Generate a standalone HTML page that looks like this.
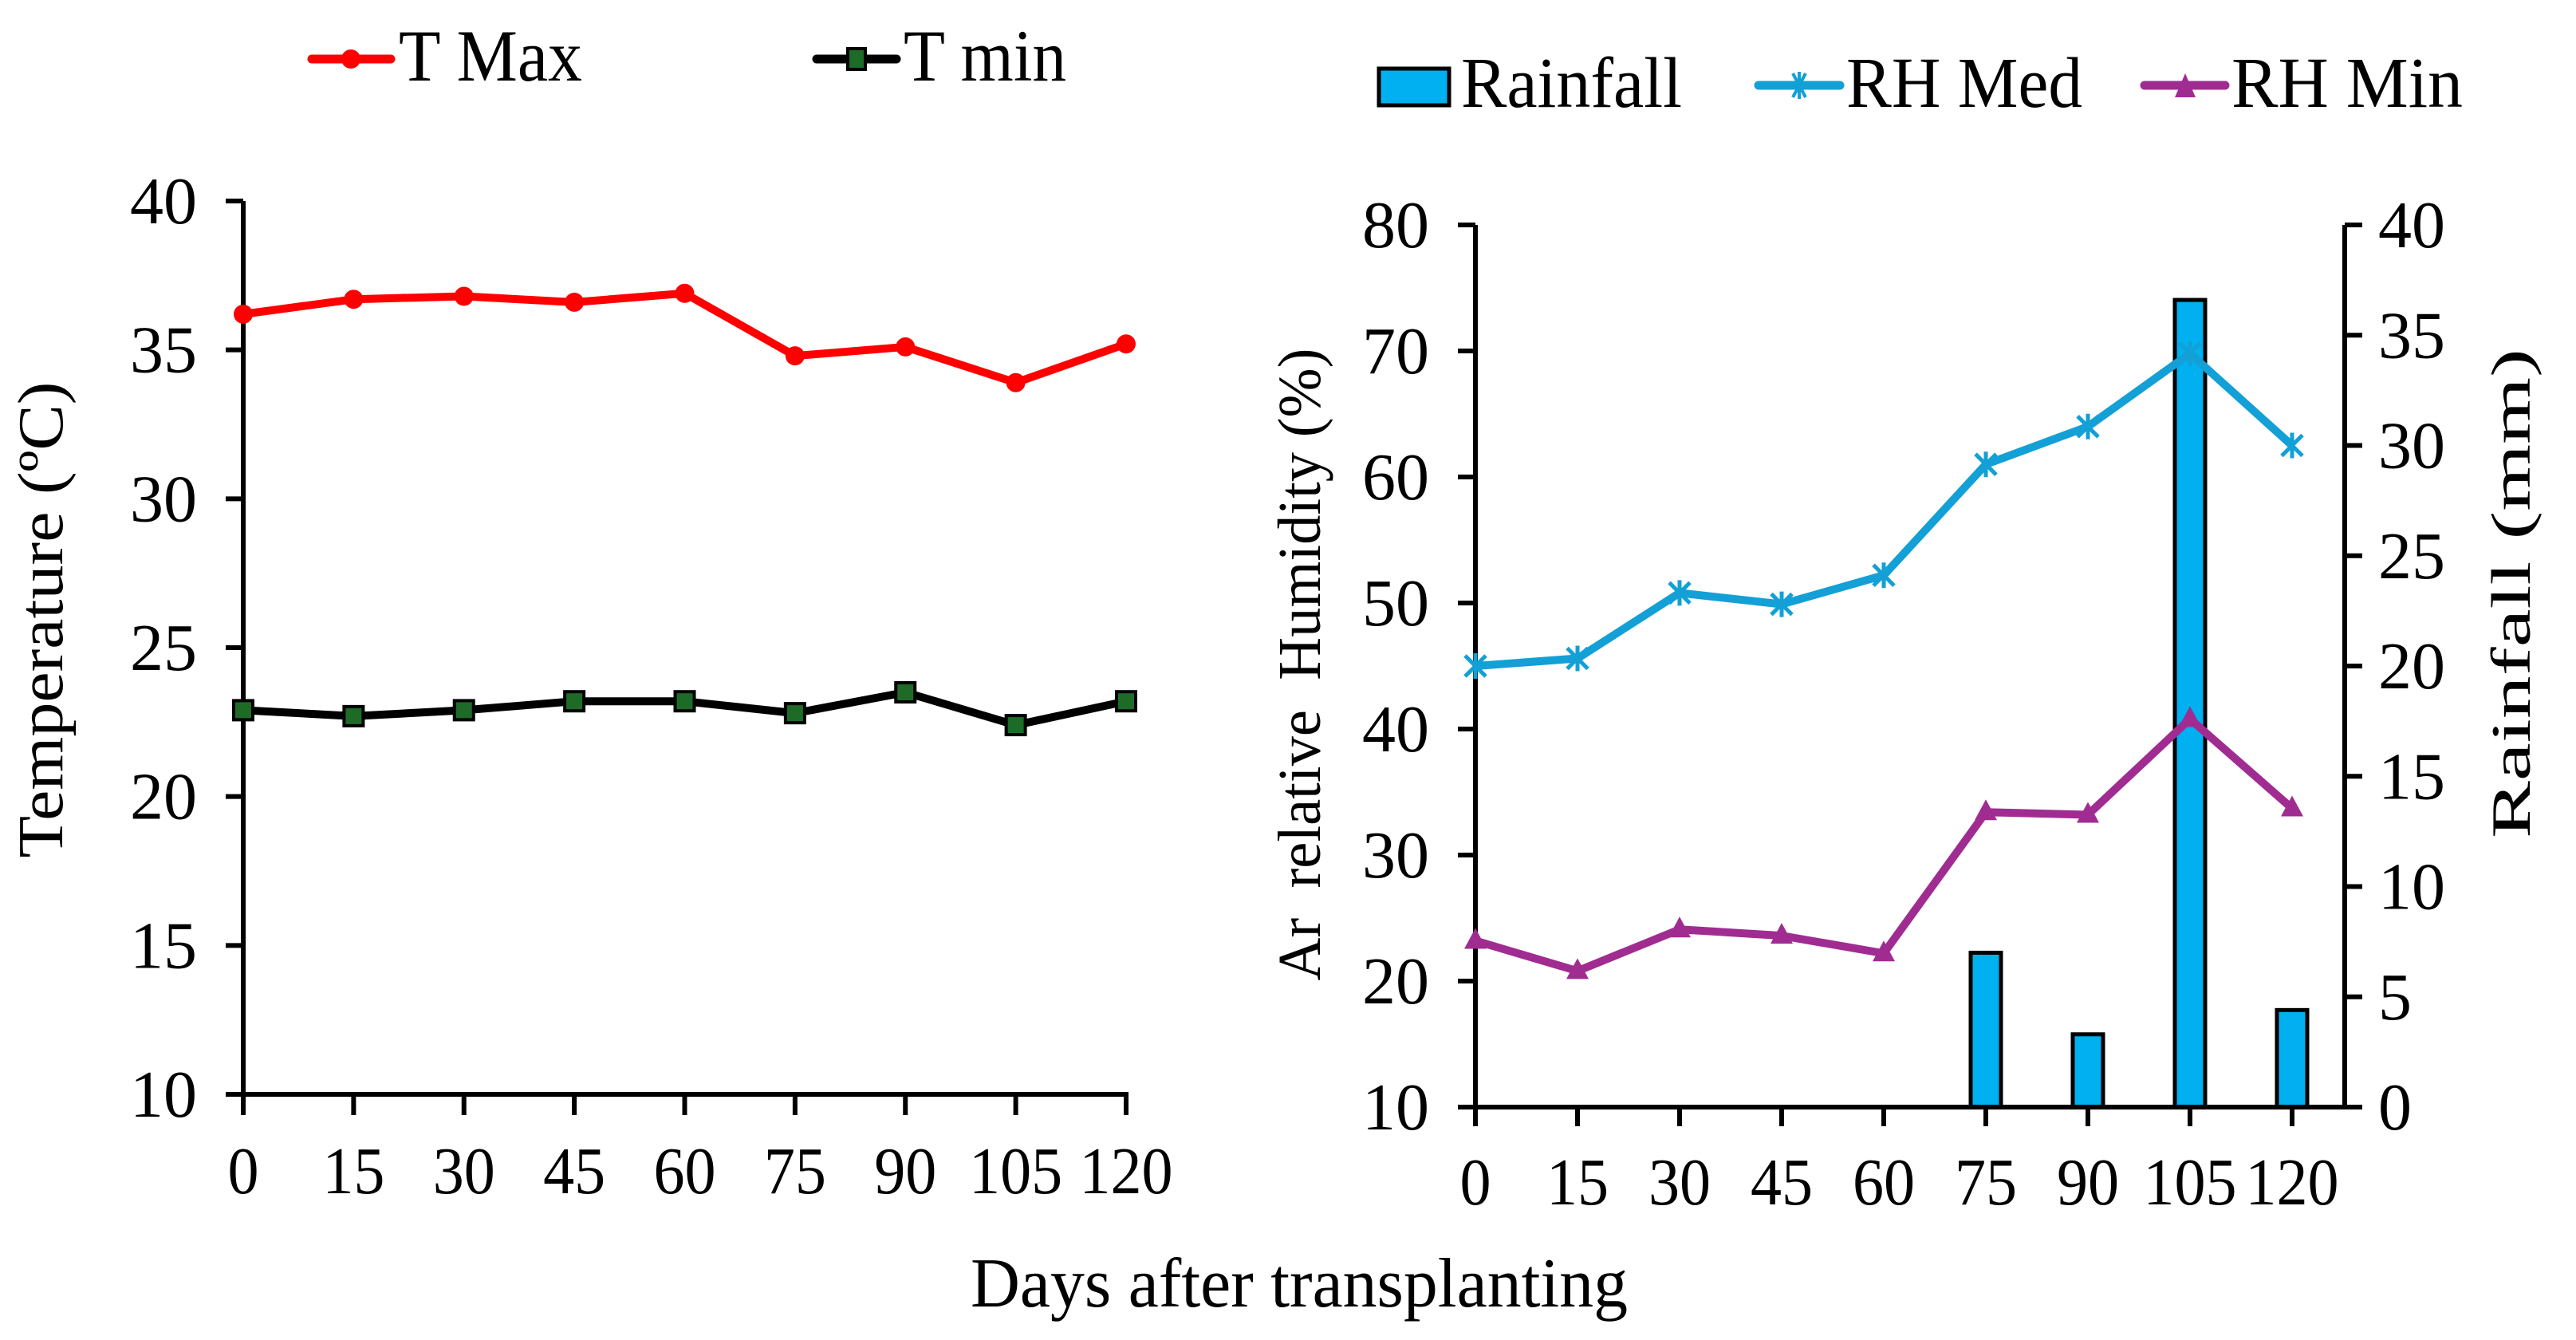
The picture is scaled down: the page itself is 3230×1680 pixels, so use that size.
<!DOCTYPE html>
<html><head><meta charset="utf-8"><style>html,body{margin:0;padding:0;background:#fff}svg{display:block}text{font-family:"Liberation Serif","Times New Roman",serif;fill:#000}</style></head>
<body>
<svg id="chart" width="3230" height="1680" xmlns="http://www.w3.org/2000/svg">
<g id="left"></g>
<g id="right"></g>
<g>
  <g>
    <line x1="391" y1="74" x2="490" y2="74" stroke="#ff0000" stroke-width="11" stroke-linecap="round"/>
    <circle cx="440" cy="74" r="12" fill="#ff0000"/>
    <text x="500" y="101" font-size="92" textLength="230" lengthAdjust="spacingAndGlyphs">T Max</text>
  </g>
  <g>
    <line x1="1024" y1="74" x2="1124" y2="74" stroke="#000" stroke-width="11" stroke-linecap="round"/>
    <rect x="1063" y="61" width="22" height="26" fill="#1e6b28" stroke="#000" stroke-width="4"/>
    <text x="1133" y="101" font-size="92" textLength="204" lengthAdjust="spacingAndGlyphs">T min</text>
  </g>
</g>
<g>
  <g>
    <rect x="1729" y="86" width="88" height="46" fill="#00b0f0" stroke="#000" stroke-width="5"/>
    <text x="1832" y="134" font-size="90" textLength="277" lengthAdjust="spacingAndGlyphs">Rainfall</text>
  </g>
  <g>
    <line x1="2205" y1="107" x2="2307" y2="107" stroke="#12a0d6" stroke-width="11" stroke-linecap="round"/>
    <path d="M2248,92 L2264,122 M2264,92 L2248,122 M2256,90 L2256,124" stroke="#12a0d6" stroke-width="4"/>
    <text x="2315" y="134" font-size="90" textLength="296" lengthAdjust="spacingAndGlyphs">RH Med</text>
  </g>
  <g>
    <line x1="2689" y1="107" x2="2790" y2="107" stroke="#a02c92" stroke-width="11" stroke-linecap="round"/>
    <path d="M2740,92 L2753,122 L2727,122 Z" fill="#a02c92"/>
    <text x="2798" y="134" font-size="90" textLength="290" lengthAdjust="spacingAndGlyphs">RH Min</text>
  </g>
</g>
<text x="1629" y="1638" font-size="88" text-anchor="middle" textLength="824" lengthAdjust="spacingAndGlyphs">Days after transplanting</text>
<text transform="translate(78,777) rotate(-90)" font-size="80" text-anchor="middle" textLength="597" lengthAdjust="spacingAndGlyphs">Temperature (ºC)</text>
<text transform="translate(1655,833) rotate(-90)" font-size="76" text-anchor="middle" textLength="793" lengthAdjust="spacingAndGlyphs" xml:space="preserve">Ar  relative  Humidity (%)</text>
<text transform="translate(3172,744) rotate(-90)" font-size="70" text-anchor="middle" textLength="614" lengthAdjust="spacingAndGlyphs">Rainfall (mm)</text>
</svg>
<script>
const days = [0,15,30,45,60,75,90,105,120];
const tMax = [36.2,36.7,36.8,36.6,36.9,34.8,35.1,33.9,35.2];
const tMin = [22.9,22.7,22.9,23.2,23.2,22.8,23.5,22.4,23.2];
const rhMed = [45.0,45.6,50.8,49.9,52.2,61.0,64.0,69.8,62.5];
const rhMin = [23.2,20.8,24.1,23.6,22.2,33.4,33.2,40.8,33.7];
const rainfall = [0,0,0,0,0,7.0,3.3,36.6,4.4];
const tempTicks = [10,15,20,25,30,35,40];
const rhTicks = [10,20,30,40,50,60,70,80];
const rainTicks = [0,5,10,15,20,25,30,35,40];

const NS = "http://www.w3.org/2000/svg";
function mk(parent, tag, attrs){const e=document.createElementNS(NS,tag);for(const k in attrs)e.setAttribute(k,attrs[k]);parent.appendChild(e);return e;}
function label(parent,x,y,str,anchor,sx){const t=mk(parent,'text',{transform:`translate(${x},${y}) scale(${sx||1.0},1)`,'font-size':84,'text-anchor':anchor});t.textContent=str;return t;}

const L = {x0:305,x1:1412,y0:1372,y1:252};
const lx = d => L.x0 + (d-0)/(120-0)*(L.x1-L.x0);
const ly = v => L.y0 - (v-10)/(40-10)*(L.y0-L.y1);
const R = {x0:1850,x1:2874,xr:2940,y0:1388,y1:282};
const rx = d => R.x0 + d/120*(R.x1-R.x0);
const ryH = v => R.y0 - (v-10)/(80-10)*(R.y0-R.y1);
const ryR = v => R.y0 - v/40*(R.y0-R.y1);

const left = document.getElementById('left');
const right = document.getElementById('right');

const lax = mk(left,'g',{});


mk(lax,'line',{x1:L.x0,y1:L.y1,x2:L.x0,y2:L.y0,stroke:'#000','stroke-width':6});
mk(lax,'line',{x1:L.x0-3,y1:L.y0,x2:L.x1+3,y2:L.y0,stroke:'#000','stroke-width':6});
tempTicks.forEach(v=>{
  mk(lax,'line',{x1:L.x0-22,y1:ly(v),x2:L.x0,y2:ly(v),stroke:'#000','stroke-width':6});
  const t=label(lax,L.x0-58,ly(v)+28,String(v),'end',1.0);
  
  
});
days.forEach(d=>{
  mk(lax,'line',{x1:lx(d),y1:L.y0,x2:lx(d),y2:L.y0+26,stroke:'#000','stroke-width':6});
  const t=label(lax,lx(d),1496,String(d),'middle',0.93);
  
  
});
const tmaxLine = mk(left,'polyline',{points:days.map((d,i)=>lx(d)+','+ly(tMax[i])).join(' '),fill:'none',stroke:'#ff0000','stroke-width':10,'stroke-linejoin':'round'});


days.forEach((d,i)=>{
  const c=mk(left,'circle',{cx:lx(d),cy:ly(tMax[i]),r:12,fill:'#ff0000'});
  
  
});
const tminLine = mk(left,'polyline',{points:days.map((d,i)=>lx(d)+','+ly(tMin[i])).join(' '),fill:'none',stroke:'#000','stroke-width':10,'stroke-linejoin':'round'});


days.forEach((d,i)=>{
  const r=mk(left,'rect',{x:lx(d)-12,y:ly(tMin[i])-12,width:24,height:24,fill:'#1e6b28',stroke:'#000','stroke-width':4});
  
  
});

days.forEach((d,i)=>{
  if(rainfall[i]<=0) return;
  const b=mk(right,'rect',{x:rx(d)-19,y:ryR(rainfall[i]),width:38,height:R.y0-ryR(rainfall[i]),fill:'#00b0f0',stroke:'#000','stroke-width':5});
  
  
});
const rax = mk(right,'g',{});


mk(rax,'line',{x1:R.x0,y1:R.y1,x2:R.x0,y2:R.y0,stroke:'#000','stroke-width':6});
mk(rax,'line',{x1:R.xr,y1:R.y1,x2:R.xr,y2:R.y0,stroke:'#000','stroke-width':6});
mk(rax,'line',{x1:R.x0-3,y1:R.y0,x2:R.xr+22,y2:R.y0,stroke:'#000','stroke-width':6});
rhTicks.forEach(v=>{
  mk(rax,'line',{x1:R.x0-22,y1:ryH(v),x2:R.x0,y2:ryH(v),stroke:'#000','stroke-width':6});
  const t=label(rax,R.x0-58,ryH(v)+28,String(v),'end',1.0);
  
  
});
rainTicks.forEach(v=>{
  mk(rax,'line',{x1:R.xr,y1:ryR(v),x2:R.xr+22,y2:ryR(v),stroke:'#000','stroke-width':6});
  const t=label(rax,2982,ryR(v)+28,String(v),'start',1.0);
  
  
});
days.forEach(d=>{
  mk(rax,'line',{x1:rx(d),y1:R.y0,x2:rx(d),y2:R.y0+24,stroke:'#000','stroke-width':6});
  const t=label(rax,rx(d),1510,String(d),'middle',0.93);
  
  
});
const medLine = mk(right,'polyline',{points:days.map((d,i)=>rx(d)+','+ryH(rhMed[i])).join(' '),fill:'none',stroke:'#12a0d6','stroke-width':10,'stroke-linejoin':'round'});


days.forEach((d,i)=>{
  const x=rx(d),y=ryH(rhMed[i]);
  const p=mk(right,'path',{d:`M${x-13},${y-13} L${x+13},${y+13} M${x+13},${y-13} L${x-13},${y+13} M${x},${y-16} L${x},${y+16}`,stroke:'#12a0d6','stroke-width':5});
  
  
});
const minLine = mk(right,'polyline',{points:days.map((d,i)=>rx(d)+','+ryH(rhMin[i])).join(' '),fill:'none',stroke:'#a02c92','stroke-width':10,'stroke-linejoin':'round'});


days.forEach((d,i)=>{
  const x=rx(d),y=ryH(rhMin[i]);
  const p=mk(right,'path',{d:`M${x},${y-16} L${x+14},${y+10} L${x-14},${y+10} Z`,fill:'#a02c92'});
  
  
});
</script>
</body></html>
